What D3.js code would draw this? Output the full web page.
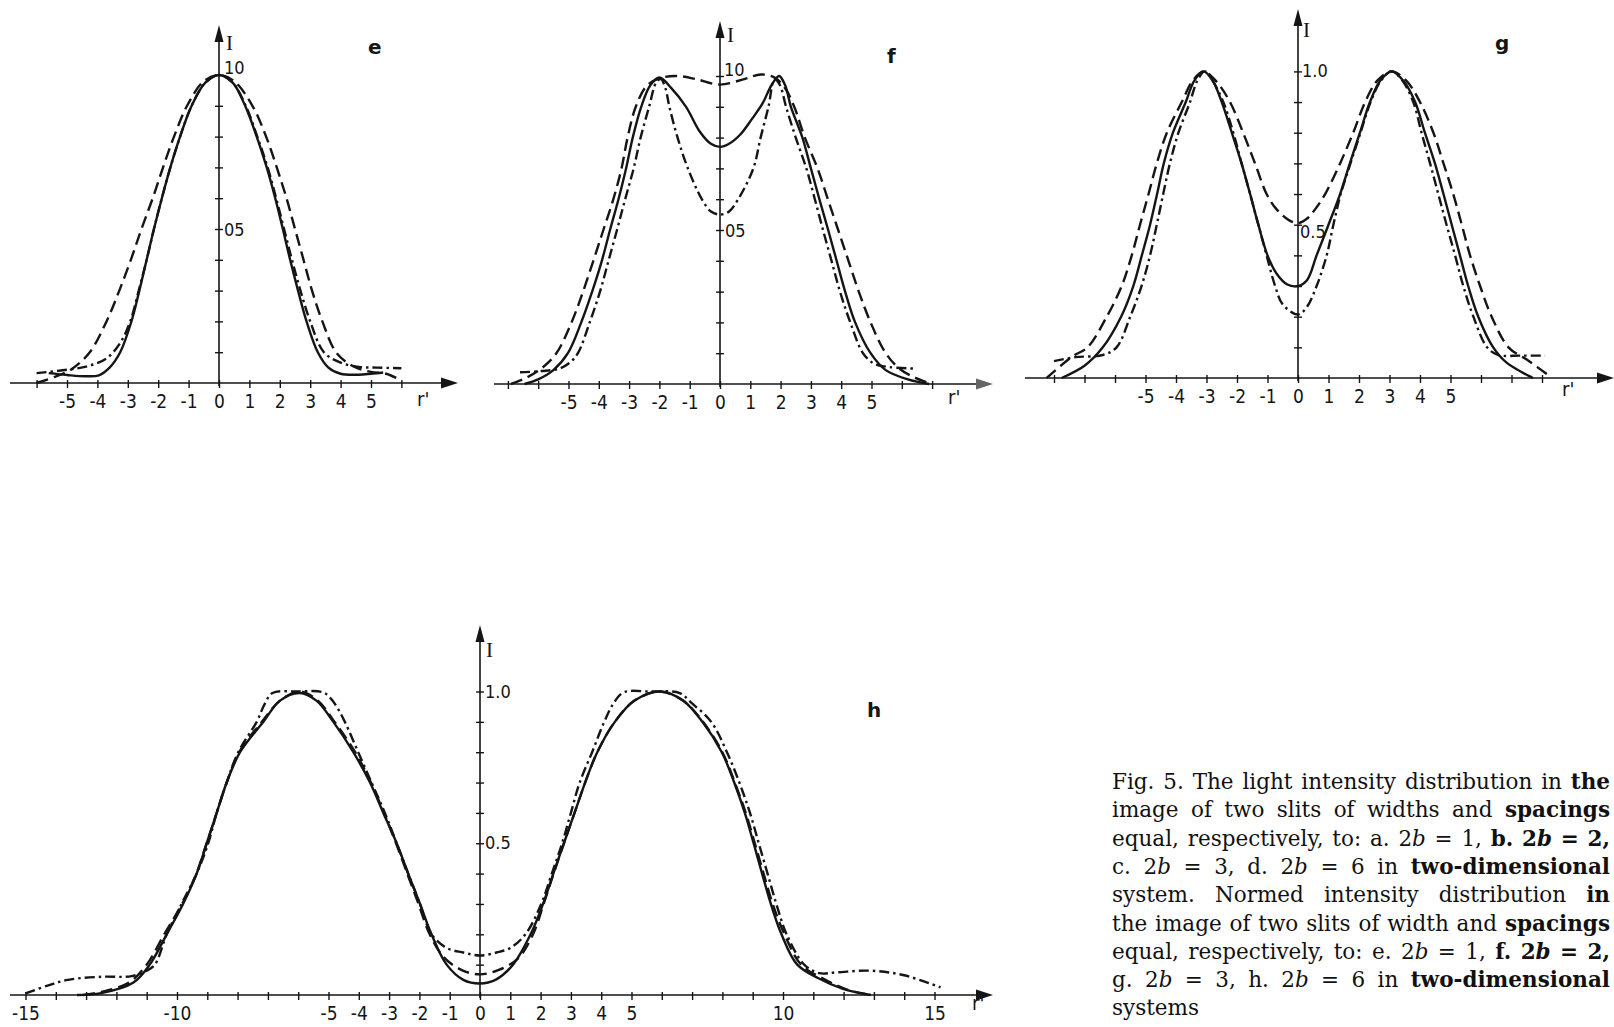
<!DOCTYPE html>
<html><head><meta charset="utf-8">
<script src="https://cdn.jsdelivr.net/npm/d3@7"></script>
<style>
html,body{margin:0;padding:0;background:#fff;}
svg{display:block;}
</style></head><body>
<svg id="c" width="1614" height="1027"></svg>
<script>
// ---------- DATA (r', I) ----------
const eSolid = [[-5.6,0.032],[-5.0,0.026],[-4.4,0.022],[-3.95,0.025],[-3.6,0.05],[-3.25,0.1],[-2.88,0.2],[-2.62,0.3],[-2.38,0.4],[-2.14,0.5],[-1.88,0.6],[-1.6,0.7],[-1.28,0.8],[-0.9,0.9],[-0.45,0.975],[0,1.0],[0.45,0.975],[0.86,0.9],[1.24,0.8],[1.57,0.7],[1.85,0.6],[2.1,0.5],[2.34,0.4],[2.6,0.3],[2.88,0.2],[3.25,0.1],[3.6,0.05],[4.0,0.03],[4.6,0.027],[5.0,0.03],[5.4,0.034]];
const eDash = [[-6.0,0.0],[-5.4,0.02],[-4.85,0.045],[-4.25,0.1],[-3.7,0.2],[-3.28,0.3],[-2.9,0.4],[-2.55,0.5],[-2.18,0.6],[-1.84,0.7],[-1.48,0.8],[-1.05,0.9],[-0.5,0.98],[0,1.0],[0.5,0.98],[1.1,0.9],[1.55,0.8],[1.9,0.7],[2.22,0.6],[2.5,0.5],[2.78,0.4],[3.06,0.3],[3.4,0.2],[3.85,0.1],[4.4,0.055],[5.0,0.036],[5.5,0.03],[6.0,0.008]];
const eDashDot = [[-6.0,0.032],[-5.0,0.043],[-4.3,0.055],[-3.7,0.08],[-3.25,0.13],[-2.92,0.2],[-2.64,0.3],[-2.38,0.4],[-2.14,0.5],[-1.88,0.6],[-1.6,0.7],[-1.28,0.8],[-0.9,0.9],[-0.45,0.975],[0,1.0],[0.45,0.975],[0.88,0.9],[1.26,0.8],[1.6,0.7],[1.88,0.6],[2.14,0.5],[2.4,0.4],[2.68,0.3],[3.0,0.2],[3.45,0.1],[4.0,0.066],[4.6,0.052],[5.2,0.05],[6.0,0.048]];

const fSolid = [[-6.45,0.0],[-6.0,0.015],[-5.5,0.045],[-5.02,0.1],[-4.58,0.2],[-4.22,0.3],[-3.9,0.4],[-3.63,0.5],[-3.35,0.6],[-3.1,0.7],[-2.88,0.8],[-2.6,0.9],[-2.3,0.97],[-2.0,0.995],[-1.6,0.96],[-1.12,0.9],[-0.67,0.82],[-0.3,0.78],[0,0.77],[0.3,0.78],[0.67,0.81],[1.05,0.86],[1.4,0.91],[1.7,0.97],[1.95,1.0],[2.15,0.97],[2.34,0.9],[2.72,0.8],[3.0,0.7],[3.28,0.6],[3.57,0.5],[3.85,0.4],[4.13,0.3],[4.46,0.2],[4.97,0.1],[5.47,0.045],[6.2,0.015],[6.9,0.0]];
const fDash = [[-6.9,0.0],[-6.4,0.02],[-5.9,0.05],[-5.4,0.1],[-4.9,0.2],[-4.52,0.3],[-4.18,0.4],[-3.85,0.5],[-3.52,0.6],[-3.25,0.7],[-3.05,0.8],[-2.78,0.9],[-2.4,0.97],[-1.9,0.995],[-1.4,1.0],[-0.8,0.99],[0,0.972],[0.8,0.99],[1.35,1.005],[1.8,0.995],[2.15,0.96],[2.45,0.9],[2.8,0.8],[3.22,0.7],[3.56,0.6],[3.9,0.5],[4.24,0.4],[4.58,0.3],[4.97,0.2],[5.47,0.1],[5.92,0.05],[6.45,0.02],[7.0,0.0]];
const fDashDot = [[-6.6,0.038],[-5.9,0.042],[-5.3,0.05],[-4.95,0.07],[-4.69,0.1],[-4.3,0.2],[-3.96,0.3],[-3.68,0.4],[-3.4,0.5],[-3.13,0.6],[-2.85,0.7],[-2.62,0.8],[-2.34,0.9],[-2.1,0.98],[-1.95,0.99],[-1.8,0.96],[-1.67,0.9],[-1.4,0.8],[-1.06,0.7],[-0.6,0.6],[-0.3,0.56],[0,0.55],[0.3,0.56],[0.6,0.6],[1.1,0.7],[1.34,0.8],[1.6,0.9],[1.8,0.99],[1.98,0.97],[2.18,0.9],[2.5,0.8],[2.85,0.7],[3.13,0.6],[3.4,0.5],[3.68,0.4],[3.96,0.3],[4.3,0.2],[4.72,0.1],[5.1,0.065],[5.6,0.055],[6.4,0.05]];

const gSolid = [[-7.75,0.0],[-7.0,0.04],[-6.4,0.1],[-5.8,0.2],[-5.4,0.3],[-5.12,0.4],[-4.85,0.5],[-4.62,0.6],[-4.4,0.7],[-4.1,0.8],[-3.68,0.9],[-3.4,0.97],[-3.1,1.0],[-2.8,0.97],[-2.5,0.9],[-2.17,0.8],[-1.85,0.7],[-1.57,0.6],[-1.3,0.5],[-1.0,0.4],[-0.7,0.34],[-0.35,0.305],[0,0.3],[0.3,0.32],[0.61,0.4],[1.0,0.5],[1.38,0.6],[1.7,0.7],[2.03,0.8],[2.36,0.9],[2.7,0.97],[3.07,1.0],[3.45,0.97],[3.84,0.9],[4.16,0.8],[4.49,0.7],[4.77,0.6],[5.04,0.5],[5.31,0.4],[5.58,0.3],[5.91,0.2],[6.4,0.1],[6.84,0.05],[7.7,0.0]];
const gDash = [[-8.24,0.0],[-7.4,0.07],[-6.9,0.1],[-6.27,0.2],[-5.78,0.3],[-5.45,0.4],[-5.18,0.5],[-4.9,0.6],[-4.63,0.7],[-4.3,0.8],[-3.81,0.9],[-3.45,0.97],[-3.1,1.0],[-2.7,0.97],[-2.23,0.9],[-1.8,0.8],[-1.41,0.7],[-1.03,0.6],[-0.7,0.55],[-0.3,0.515],[0,0.505],[0.3,0.52],[0.56,0.55],[0.89,0.6],[1.38,0.7],[1.81,0.8],[2.2,0.9],[2.6,0.97],[3.07,1.0],[3.55,0.97],[4.0,0.9],[4.44,0.8],[4.77,0.7],[5.09,0.6],[5.37,0.5],[5.64,0.4],[5.97,0.3],[6.35,0.2],[6.9,0.1],[7.5,0.06],[8.2,0.01]];
const gDashDot = [[-8.0,0.055],[-7.3,0.068],[-6.4,0.075],[-5.95,0.1],[-5.5,0.2],[-5.13,0.3],[-4.85,0.4],[-4.63,0.5],[-4.42,0.6],[-4.2,0.7],[-3.92,0.8],[-3.54,0.9],[-3.3,0.97],[-3.05,1.0],[-2.8,0.97],[-2.45,0.9],[-2.12,0.8],[-1.85,0.7],[-1.57,0.6],[-1.3,0.5],[-1.03,0.4],[-0.75,0.3],[-0.5,0.24],[0,0.207],[0.28,0.23],[0.61,0.3],[0.94,0.4],[1.16,0.5],[1.4,0.6],[1.72,0.7],[2.05,0.8],[2.38,0.9],[2.72,0.97],[3.07,1.0],[3.42,0.97],[3.78,0.9],[4.05,0.8],[4.33,0.7],[4.6,0.6],[4.87,0.5],[5.15,0.4],[5.42,0.3],[5.75,0.2],[6.2,0.1],[6.57,0.075],[7.3,0.073],[8.1,0.073]];

const hSolid = [[-13.3,0.0],[-12.5,0.006],[-11.45,0.04],[-10.9,0.1],[-10.34,0.2],[-9.8,0.3],[-9.35,0.4],[-9.02,0.5],[-8.69,0.6],[-8.36,0.7],[-7.92,0.8],[-7.15,0.9],[-6.6,0.97],[-5.95,0.995],[-5.4,0.97],[-4.84,0.9],[-4.18,0.8],[-3.63,0.7],[-3.19,0.6],[-2.75,0.5],[-2.37,0.4],[-1.98,0.3],[-1.6,0.2],[-1.1,0.1],[-0.55,0.05],[0,0.038],[0.51,0.05],[1.09,0.1],[1.67,0.2],[2.08,0.3],[2.42,0.4],[2.77,0.5],[3.12,0.6],[3.47,0.7],[3.87,0.8],[4.45,0.9],[5.1,0.97],[5.95,1.0],[6.7,0.97],[7.34,0.9],[7.98,0.8],[8.39,0.7],[8.74,0.6],[9.03,0.5],[9.31,0.4],[9.6,0.3],[9.95,0.2],[10.47,0.1],[11.17,0.055],[11.98,0.02],[12.9,0.0]];
const hDash = [[-13.1,0.0],[-12.5,0.01],[-11.6,0.04],[-11.0,0.1],[-10.42,0.2],[-9.83,0.3],[-9.36,0.4],[-9.02,0.5],[-8.69,0.6],[-8.36,0.7],[-7.95,0.8],[-7.2,0.9],[-6.6,0.97],[-5.95,1.0],[-5.35,0.97],[-4.8,0.9],[-4.12,0.8],[-3.6,0.7],[-3.17,0.6],[-2.77,0.5],[-2.4,0.4],[-2.03,0.3],[-1.66,0.2],[-1.2,0.125],[-0.6,0.082],[0,0.068],[0.6,0.082],[1.25,0.12],[1.75,0.2],[2.1,0.3],[2.43,0.4],[2.77,0.5],[3.12,0.6],[3.47,0.7],[3.87,0.8],[4.45,0.9],[5.1,0.97],[5.95,1.0],[6.7,0.97],[7.36,0.9],[8.0,0.8],[8.41,0.7],[8.77,0.6],[9.07,0.5],[9.36,0.4],[9.66,0.3],[10.05,0.2],[10.6,0.1],[11.4,0.05],[12.2,0.015],[12.9,0.0]];
const hDashDot = [[-15.0,0.005],[-14.3,0.03],[-13.6,0.05],[-12.5,0.06],[-11.5,0.062],[-11.0,0.08],[-10.73,0.1],[-10.34,0.2],[-9.85,0.3],[-9.35,0.4],[-8.97,0.5],[-8.69,0.6],[-8.36,0.7],[-7.98,0.8],[-7.37,0.9],[-7.1,0.96],[-6.85,0.995],[-6.0,1.0],[-5.2,0.998],[-4.95,0.98],[-4.73,0.95],[-4.46,0.9],[-4.02,0.8],[-3.58,0.7],[-3.14,0.6],[-2.75,0.5],[-2.37,0.4],[-1.98,0.3],[-1.6,0.2],[-1.1,0.155],[-0.55,0.14],[0,0.13],[0.55,0.14],[1.0,0.155],[1.5,0.2],[2.02,0.3],[2.37,0.4],[2.71,0.5],[3.0,0.6],[3.29,0.7],[3.7,0.8],[4.1,0.9],[4.4,0.96],[4.74,0.997],[5.6,1.0],[6.59,0.995],[6.95,0.965],[7.63,0.9],[8.15,0.8],[8.56,0.7],[8.91,0.6],[9.2,0.5],[9.49,0.4],[9.78,0.3],[10.12,0.2],[10.7,0.1],[11.2,0.072],[11.8,0.075],[12.9,0.08],[14.0,0.065],[15.2,0.025]];

// tick values / labels
const smallXTicks = d3.range(-5, 6);
const eXTicks = d3.range(-6, 7);
const fXTicks = d3.range(-7, 8);
const gXTicks = d3.range(-8, 9);
const hXTicks = d3.range(-15, 16);
const hXLabels = [-15,-10,-5,-4,-3,-2,-1,0,1,2,3,4,5,10,15];
const yTicks = d3.range(1, 11).map(i => i / 10);
const eYLabels = ["10", "05"];
const fYLabels = ["10", "05"];
const gYLabels = ["1.0", "0.5"];
const hYLabels = ["1.0", "0.5"];
const yLabelValues = [1.0, 0.5];
const panelLetters = ["e", "f", "g", "h"];

const captionLines = [
  "Fig. 5. The light intensity distribution in the",
  "image of two slits of widths and spacings",
  "equal, respectively, to: a. 2b = 1, b. 2b = 2,",
  "c. 2b = 3, d. 2b = 6 in two-dimensional",
  "system. Normed intensity distribution in",
  "the image of two slits of width and spacings",
  "equal, respectively, to: e. 2b = 1, f. 2b = 2,",
  "g. 2b = 3, h. 2b = 6 in two-dimensional",
  "systems"
];
const captionBoldTail = [1, 1, 4, 1, 1, 1, 4, 1, 0];

// ---------- DRAWING ----------
const INK = "#151515";
const svg = d3.select("#c");
const TICKFONT = "'Liberation Sans Narrow','DejaVu Sans Condensed','Arial Narrow',sans-serif";

const styles = {
  solid: null,
  dash: "12,6",
  dashdot: "10,4,2.5,4"
};

const panels = [
  { letter: panelLetters[0], ox: 219, oy: 383, ux: 30.4, uy: 308, axL: 10, axR: 458, yTop: 25,
    xTicks: eXTicks, xLabels: smallXTicks, yLabels: eYLabels, yLab: [[5, -1], [5, 7]],
    series: [[eSolid, "solid"], [eDash, "dash"], [eDashDot, "dashdot"]],
    letterPos: [368, 54], IPos: [226, 50], rPos: [417, 406], arrowFill: INK },
  { letter: panelLetters[1], ox: 720, oy: 384, ux: 30.3, uy: 308, axL: 494, axR: 993, yTop: 21,
    xTicks: fXTicks, xLabels: smallXTicks, yLabels: fYLabels, yLab: [[4, 0], [5, 7]],
    series: [[fSolid, "solid"], [fDash, "dash"], [fDashDot, "dashdot"]],
    letterPos: [887, 63], IPos: [727, 42], rPos: [948, 404], arrowFill: "#666" },
  { letter: panelLetters[2], ox: 1298, oy: 378, ux: 30.5, uy: 306.6, axL: 1025, axR: 1614, yTop: 9,
    xTicks: gXTicks, xLabels: smallXTicks, yLabels: gYLabels, yLab: [[4, 6], [2, 13]],
    series: [[gSolid, "solid"], [gDash, "dash"], [gDashDot, "dashdot"]],
    letterPos: [1495, 50], IPos: [1303, 37], rPos: [1562, 396], arrowFill: INK },
  { letter: panelLetters[3], ox: 480, oy: 995, ux: 30.3, uy: 303.5, axL: 10, axR: 993, yTop: 625,
    xTicks: hXTicks, xLabels: hXLabels, yLabels: hYLabels, yLab: [[5, 6], [5, 6]],
    series: [[hSolid, "solid"], [hDash, "dash"], [hDashDot, "dashdot"]],
    letterPos: [867, 717], IPos: [486, 657], rPos: [972, 1010], arrowFill: INK }
];

panels.forEach(p => {
  const g = svg.append("g");
  const x = d3.scaleLinear().domain([0, 1]).range([p.ox, p.ox + p.ux]);
  const y = d3.scaleLinear().domain([0, 1]).range([p.oy, p.oy - p.uy]);

  g.append("line").attr("x1", p.axL).attr("x2", p.axR - 8).attr("y1", p.oy).attr("y2", p.oy)
    .attr("stroke", INK).attr("stroke-width", 1.6);
  g.append("path").attr("d", `M${p.axR},${p.oy} L${p.axR - 17},${p.oy - 5.5} L${p.axR - 17},${p.oy + 5.5} Z`)
    .attr("fill", p.arrowFill);
  g.append("line").attr("x1", p.ox).attr("x2", p.ox).attr("y1", p.oy + 3).attr("y2", p.yTop + 8)
    .attr("stroke", INK).attr("stroke-width", 1.6);
  g.append("path").attr("d", `M${p.ox},${p.yTop} L${p.ox - 4.5},${p.yTop + 17} L${p.ox + 4.5},${p.yTop + 17} Z`)
    .attr("fill", INK);

  const xAxis = d3.axisBottom(x).tickValues(p.xTicks).tickSize(0)
    .tickFormat(d => p.xLabels.includes(d) ? String(d) : "");
  const gx = g.append("g").attr("transform", `translate(0,${p.oy})`).call(xAxis);
  gx.select(".domain").remove();
  gx.selectAll(".tick line").attr("y1", -3).attr("y2", 5).attr("stroke", INK).attr("stroke-width", 1.4);
  gx.selectAll(".tick text").attr("y", 25).attr("dy", null)
    .attr("fill", INK).style("font-family", TICKFONT).style("font-size", "19px");
  gx.attr("font-family", null).attr("font-size", null);

  const yAxis = d3.axisLeft(y).tickValues(yTicks).tickSize(0).tickFormat("");
  const gy = g.append("g").attr("transform", `translate(${p.ox},0)`).call(yAxis);
  gy.select(".domain").remove();
  gy.selectAll(".tick line").attr("x1", -4).attr("x2", 4).attr("stroke", INK).attr("stroke-width", 1.4);

  yLabelValues.forEach((v, i) => {
    g.append("text").attr("x", p.ox + p.yLab[i][0]).attr("y", y(v) + p.yLab[i][1])
      .attr("fill", INK).style("font-family", TICKFONT).style("font-size", "18px")
      .text(p.yLabels[i]);
  });

  const line = d3.line().x(d => x(d[0])).y(d => y(d[1])).curve(d3.curveCatmullRom.alpha(0.5));
  p.series.forEach(([data, st]) => {
    g.append("path").attr("d", line(data)).attr("fill", "none").attr("stroke", INK)
      .attr("stroke-width", 2.4).attr("stroke-linejoin", "round")
      .attr("stroke-dasharray", styles[st]);
  });

  g.append("text").attr("x", p.letterPos[0]).attr("y", p.letterPos[1]).attr("fill", INK)
    .style("font-family", "'DejaVu Sans',sans-serif").style("font-weight", "bold").style("font-size", "20px")
    .text(p.letter);
  g.append("text").attr("x", p.IPos[0]).attr("y", p.IPos[1]).attr("fill", INK)
    .style("font-family", "'Liberation Serif',serif").style("font-size", "21px").text("I");
  g.append("text").attr("x", p.rPos[0]).attr("y", p.rPos[1]).attr("fill", INK)
    .style("font-family", TICKFONT).style("font-size", "20px").text("r'");
});

// ---------- CAPTION (justified) ----------
const capX0 = 1112, capX1 = 1610, capBase = 789, capStep = 28.3;
const cap = svg.append("g").attr("fill", "#111");

function renderCaption(fs) {
  cap.selectAll("*").remove();
  const W = capX1 - capX0;
  const spaceW = fs * 0.3;
  let maxNat = 0;
  captionLines.forEach((ln, i) => {
    const tokens = ln.split(" ");
    const yy = capBase + i * capStep;
    const nodes = tokens.map((tk, j) => {
      const t = cap.append("text").attr("y", yy)
        .attr("font-family", "DejaVu Serif, serif")
        .attr("font-size", fs)
        .attr("font-weight", j >= tokens.length - captionBoldTail[i] ? "bold" : "normal");
      const m = tk.match(/^(\d)b(.*)$/);
      if (m) {
        t.append("tspan").text(m[1]);
        t.append("tspan").attr("font-style", "italic").text("b");
        if (m[2]) t.append("tspan").text(m[2]);
      } else t.text(tk);
      return t;
    });
    const widths = nodes.map(n => n.node().getComputedTextLength());
    const total = d3.sum(widths);
    maxNat = Math.max(maxNat, total + spaceW * (tokens.length - 1));
    const gap = (i < captionLines.length - 1 && tokens.length > 1) ? (W - total) / (tokens.length - 1) : spaceW;
    let xx = capX0;
    nodes.forEach((n, j) => { n.attr("x", xx); xx += widths[j] + gap; });
  });
  return maxNat;
}
const nat = renderCaption(21.5);
if (nat > capX1 - capX0) renderCaption(21.5 * (capX1 - capX0) / nat);
</script>
</body></html>
